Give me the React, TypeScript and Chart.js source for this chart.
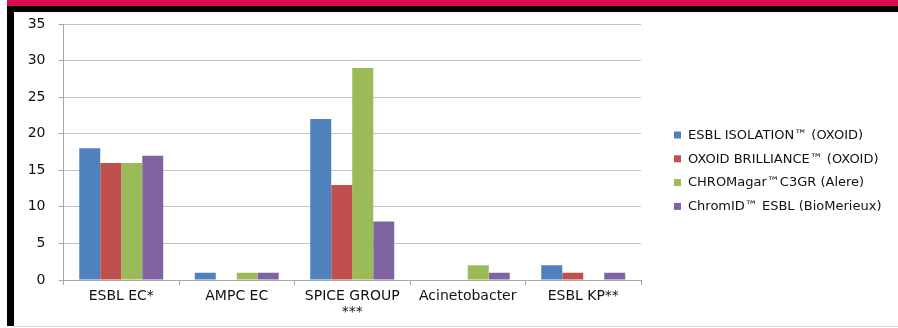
import React, { useEffect, useRef } from 'react';
import { Chart, registerables } from 'chart.js';

Chart.register(...registerables);

const categories: (string | string[])[] = ['ESBL EC*', 'AMPC EC', ['SPICE GROUP', '***'], 'Acinetobacter', 'ESBL KP**'];
const seriesNames = [
  'ESBL ISOLATION™ (OXOID)',
  'OXOID BRILLIANCE™ (OXOID)',
  'CHROMagar™C3GR (Alere)',
  'ChromID™ ESBL (BioMerieux)',
];
const esblIsolation = [18, 1, 22, 0, 2];
const oxoidBrilliance = [16, 0, 13, 0, 1];
const chromagar = [16, 1, 29, 2, 0];
const chromId = [17, 1, 8, 1, 1];
const seriesColors = ['#4F81BD', '#C0504D', '#9BBB59', '#8064A2'];
const yMin = 0;
const yMax = 35;
const yStep = 5;

const FONT = '"DejaVu Sans", sans-serif';

const sideLegend = {
  id: 'sideLegend',
  afterDraw(chart: any) {
    const ctx = chart.ctx as CanvasRenderingContext2D;
    const area = chart.chartArea;
    ctx.save();
    ctx.font = `13px ${FONT}`;
    ctx.textBaseline = 'middle';
    ctx.textAlign = 'left';
    const x0 = area.right + 33;
    const yStart = 135;
    const gap = 23.8;
    chart.data.datasets.forEach((ds: any, i: number) => {
      const y = yStart + i * gap;
      ctx.fillStyle = ds.backgroundColor;
      ctx.fillRect(x0, y - 3.5, 7, 7);
      ctx.fillStyle = '#111';
      ctx.fillText(ds.label, x0 + 14, y + 0.5);
    });
    ctx.restore();
  },
};

export default function App() {
  const ref = useRef<HTMLCanvasElement | null>(null);

  useEffect(() => {
    if (!ref.current) return;
    const seriesValues = [esblIsolation, oxoidBrilliance, chromagar, chromId];
    const chart = new Chart(ref.current, {
      type: 'bar',
      data: {
        labels: categories,
        datasets: seriesValues.map((vals, i) => ({
          label: seriesNames[i],
          data: vals,
          backgroundColor: seriesColors[i],
          borderWidth: 0,
          categoryPercentage: 0.727,
          barPercentage: 1,
        })),
      },
      options: {
        responsive: false,
        animation: false,
        devicePixelRatio: 1,
        layout: { padding: { left: 0, top: 24, right: 257, bottom: 0 } },
        plugins: {
          legend: { display: false },
          tooltip: { enabled: false },
          title: { display: false },
        },
        scales: {
          x: {
            grid: {
              offset: true,
              drawOnChartArea: false,
              drawTicks: true,
              tickLength: 5,
              color: '#A6A6A6',
            },
            border: { color: '#A6A6A6', width: 1 },
            ticks: {
              color: '#111',
              font: { family: FONT, size: 14, lineHeight: 1.1 },
              padding: 4,
              maxRotation: 0,
              autoSkip: false,
            },
            afterFit: (s: any) => {
              s.height = 48;
            },
          },
          y: {
            min: yMin,
            max: yMax,
            ticks: {
              stepSize: yStep,
              color: '#111',
              font: { family: FONT, size: 14 },
              padding: 13,
            },
            grid: {
              color: '#C4C4C4',
              tickColor: '#A6A6A6',
              tickLength: 5,
              lineWidth: 1,
            },
            border: { color: '#A6A6A6', width: 1 },
            afterFit: (s: any) => {
              s.width = 63.5;
            },
          },
        },
      },
      plugins: [sideLegend],
    });
    return () => chart.destroy();
  }, []);

  return (
    <div style={{ position: 'absolute', left: 0, top: 0, width: 898, height: 328, background: '#fff', overflow: 'hidden' }}>
      <canvas
        ref={ref}
        width={898}
        height={328}
        style={{ position: 'absolute', left: 0, top: 0, width: 898, height: 328, display: 'block' }}
      />
      <div style={{ position: 'absolute', left: 7, top: 0, width: 891, height: 6, background: '#D90A52' }} />
      <div style={{ position: 'absolute', left: 7, top: 6, width: 891, height: 6, background: '#000' }} />
      <div style={{ position: 'absolute', left: 7, top: 6, width: 7, height: 320, background: '#000' }} />
      <div style={{ position: 'absolute', left: 14, top: 326, width: 884, height: 1, background: '#D9D9D9' }} />
    </div>
  );
}
